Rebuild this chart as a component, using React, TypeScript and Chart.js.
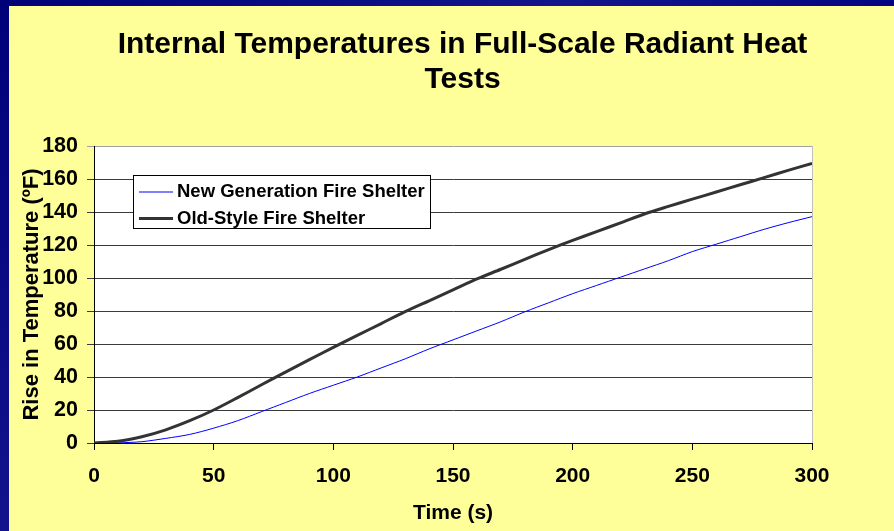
import { useEffect, useRef } from 'react';
import { Chart, registerables } from 'chart.js';

Chart.register(...registerables);

const FONT = "'Liberation Sans', Arial, Helvetica, sans-serif";

const TITLE_LINES = ['Internal Temperatures in Full-Scale Radiant Heat', 'Tests'];
const X_TITLE = 'Time (s)';
const Y_TITLE = 'Rise in Temperature (ºF)';
const SERIES_LABELS = ['New Generation Fire Shelter', 'Old-Style Fire Shelter'];

const TIME_S = [0, 10, 20, 30, 40, 50, 60, 70, 80, 90, 100, 110, 120, 130, 140, 150, 160, 170, 180, 190, 200, 210, 220, 230, 240, 250, 260, 270, 280, 290, 300];

const NEW_GENERATION = [0, 0.1, 0.8, 2.8, 5.2, 9, 13.5, 19, 24.5, 30, 35, 40, 45.5, 51, 57, 62.5, 68, 73.5, 79.5, 85, 90.5, 95.5, 100.5, 105.5, 110.5, 116, 120.5, 125, 129.5, 133.5, 137.2];

const OLD_STYLE = [0, 1.0, 3.8, 8, 13.5, 20, 27.5, 35.3, 43, 50.5, 58, 65.2, 72.4, 79.6, 86.2, 92.8, 99.4, 105.3, 111.3, 117.2, 122.8, 128.1, 133.4, 138.8, 143.4, 147.8, 152.1, 156.5, 160.8, 165.2, 169.5];

const X_MIN = 0;
const X_MAX = 300;
const X_STEP = 50;
const Y_MIN = 0;
const Y_MAX = 180;
const Y_STEP = 20;

const COLORS = ['#0000FF', '#333333'];
const WIDTHS = [1, 3];

const plotBackground = {
  id: 'plotBackground',
  beforeDraw(chart: any) {
    const { ctx, chartArea } = chart;
    ctx.save();
    ctx.fillStyle = '#FFFFFF';
    ctx.fillRect(chartArea.left, chartArea.top, chartArea.right - chartArea.left, chartArea.bottom - chartArea.top);
    ctx.restore();
  },
  afterDatasetsDraw(chart: any) {
    const { ctx, chartArea } = chart;
    ctx.save();
    ctx.strokeStyle = '#C0C0C0';
    ctx.lineWidth = 1;
    ctx.beginPath();
    ctx.moveTo(Math.round(chartArea.right) + 0.5, chartArea.top);
    ctx.lineTo(Math.round(chartArea.right) + 0.5, chartArea.bottom);
    ctx.stroke();
    ctx.restore();
  },
};

const slideTitle = {
  id: 'slideTitle',
  afterDraw(chart: any) {
    const { ctx } = chart;
    ctx.save();
    ctx.font = `bold 30px ${FONT}`;
    ctx.fillStyle = '#000000';
    ctx.textAlign = 'center';
    ctx.textBaseline = 'middle';
    TITLE_LINES.forEach((line, i) => ctx.fillText(line, 453.5, 39 + i * 35));
    ctx.restore();
  },
};

const boxLegend = {
  id: 'boxLegend',
  afterDraw(chart: any) {
    const { ctx } = chart;
    ctx.save();
    ctx.fillStyle = '#FFFFFF';
    ctx.fillRect(124.5, 169.5, 297, 53);
    ctx.strokeStyle = '#000000';
    ctx.lineWidth = 1;
    ctx.strokeRect(124.5, 169.5, 297, 53);
    chart.data.datasets.forEach((ds: any, i: number) => {
      const cy = 186 + i * 26.5;
      ctx.strokeStyle = ds.borderColor;
      ctx.lineWidth = ds.borderWidth;
      ctx.beginPath();
      ctx.moveTo(130, cy);
      ctx.lineTo(164, cy);
      ctx.stroke();
      ctx.font = `bold 18.5px ${FONT}`;
      ctx.fillStyle = '#000000';
      ctx.textAlign = 'left';
      ctx.textBaseline = 'middle';
      ctx.fillText(ds.label, 168, cy);
    });
    ctx.restore();
  },
};

export default function App() {
  const canvasRef = useRef<HTMLCanvasElement | null>(null);

  useEffect(() => {
    const canvas = canvasRef.current;
    if (!canvas) return;
    const chart = new Chart(canvas, {
      type: 'line',
      data: {
        datasets: [
          {
            label: SERIES_LABELS[0],
            data: TIME_S.map((t, i) => ({ x: t, y: NEW_GENERATION[i] })),
            borderColor: COLORS[0],
            backgroundColor: COLORS[0],
            borderWidth: WIDTHS[0],
            pointRadius: 0,
            tension: 0.3,
            fill: false,
            order: 1,
          },
          {
            label: SERIES_LABELS[1],
            data: TIME_S.map((t, i) => ({ x: t, y: OLD_STYLE[i] })),
            borderColor: COLORS[1],
            backgroundColor: COLORS[1],
            borderWidth: WIDTHS[1],
            pointRadius: 0,
            tension: 0.3,
            fill: false,
            order: 0,
          },
        ],
      },
      options: {
        responsive: false,
        devicePixelRatio: 1,
        animation: false,
        layout: { padding: { top: 140, right: 82, left: 0, bottom: 0 } },
        plugins: {
          legend: { display: false },
          title: { display: false },
          tooltip: { enabled: false },
        },
        scales: {
          x: {
            type: 'linear',
            min: X_MIN,
            max: X_MAX,
            ticks: {
              stepSize: X_STEP,
              color: '#000000',
              font: { family: FONT, size: 21, weight: 'bold' },
              padding: 14,
              maxRotation: 0,
            },
            grid: {
              display: true,
              drawOnChartArea: false,
              drawTicks: true,
              tickLength: 7,
              color: '#000000',
            },
            border: { display: true, color: '#000000', width: 1 },
            title: {
              display: true,
              text: X_TITLE,
              color: '#000000',
              font: { family: FONT, size: 21, weight: 'bold' },
              padding: { top: 0, bottom: 5.4 },
            },
            afterFit(scale: any) {
              scale.height = 88;
            },
          },
          y: {
            min: Y_MIN,
            max: Y_MAX,
            ticks: {
              stepSize: Y_STEP,
              color: '#000000',
              font: { family: FONT, size: 21.5, weight: 'bold' },
              padding: 9,
            },
            grid: {
              display: true,
              drawOnChartArea: true,
              drawTicks: true,
              tickLength: 7,
              color: (c: any) => (c.tick && c.tick.value === Y_MAX ? '#A0A0A0' : '#3A3A3A'),
            },
            border: { display: true, color: '#000000', width: 1 },
            title: {
              display: true,
              text: Y_TITLE,
              color: '#000000',
              font: { family: FONT, size: 22, weight: 'bold' },
              padding: { top: 9.5, bottom: 0 },
            },
            afterFit(scale: any) {
              scale.width = 85;
            },
          },
        },
      } as any,
      plugins: [plotBackground, slideTitle, boxLegend],
    });
    return () => chart.destroy();
  }, []);

  return (
    <div
      style={{
        position: 'fixed',
        left: 0,
        top: 0,
        width: 894,
        height: 531,
        overflow: 'hidden',
        background: 'linear-gradient(135deg, #000078 0%, #14148C 40%, #000080 70%, #0A0A84 100%)',
      }}
    >
      <canvas
        ref={canvasRef}
        width={885}
        height={525}
        style={{ position: 'absolute', left: 9, top: 6, width: 885, height: 525, background: '#FFFF99', display: 'block' }}
      />
    </div>
  );
}
